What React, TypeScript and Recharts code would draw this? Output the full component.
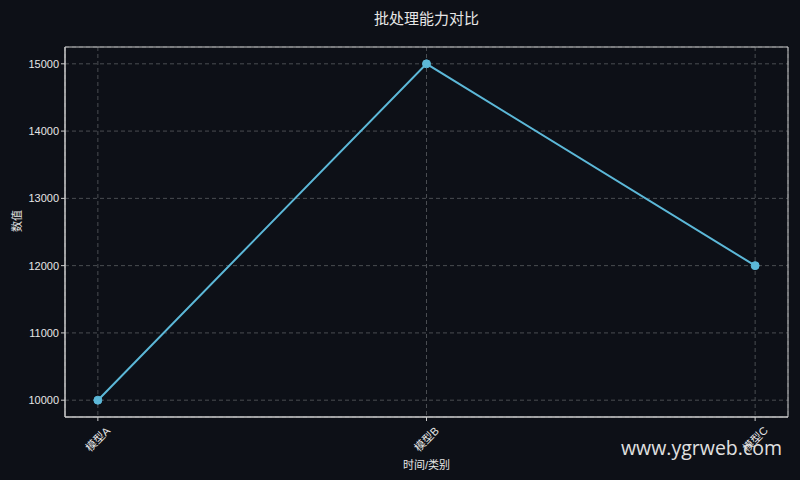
import React from "react";
import { CartesianGrid, Line, LineChart, ReferenceArea, XAxis, YAxis } from "recharts";

// 数据
const CATEGORIES = ["模型A", "模型B", "模型C"];
const VALUES = [10000, 15000, 12000];
const Y_TICKS = [10000, 11000, 12000, 13000, 14000, 15000];

const X_DOMAIN: [number, number] = [-0.1, 2.1];
const Y_DOMAIN: [number, number] = [9750, 15250];

const BG = "#0d1017";
const FG = "#e6e6e6";
const LINE = "#5cb8d8";
const FONT = "'Liberation Sans', Arial, 'Noto Sans CJK SC', sans-serif";

const rows = CATEGORIES.map((name, i) => ({ idx: i, name, value: VALUES[i] }));

// 旋转 45° 的类别标签，包围盒居中于刻度
function RotatedTick(props: any) {
  const { x, y, payload } = props;
  return (
    <g transform={`translate(${x},${y + 16})`}>
      <text
        transform="rotate(-45)"
        textAnchor="middle"
        dominantBaseline="central"
        fill={FG}
        fontSize={11}
        fontFamily={FONT}
      >
        {CATEGORIES[payload.value]}
      </text>
    </g>
  );
}

export default function App() {
  return (
    <div style={{ position: "fixed", left: 0, top: 0, width: 800, height: 480, background: BG, fontFamily: FONT }}>
      <div
        style={{
          position: "absolute", left: 65, width: 723, top: 7, textAlign: "center",
          color: FG, fontSize: 15, fontFamily: FONT,
        }}
      >
        批处理能力对比
      </div>
      <LineChart width={800} height={480} data={rows} margin={{ top: 47, right: 12, bottom: 23, left: 20 }}>
        <CartesianGrid stroke="#4a4d52" strokeDasharray="4 3" />
        <XAxis
          dataKey="idx"
          type="number"
          domain={X_DOMAIN}
          ticks={[0, 1, 2]}
          interval={0}
          height={40}
          tick={<RotatedTick />}
          tickSize={4}
          tickLine={{ stroke: "#cccccc" }}
          axisLine={{ stroke: "#cccccc" }}
          label={{ value: "时间/类别", position: "insideBottom", offset: -12, fill: FG, fontSize: 11, fontFamily: FONT }}
        />
        <YAxis
          type="number"
          domain={Y_DOMAIN}
          ticks={Y_TICKS}
          width={45}
          tickSize={4}
          tick={{ fill: FG, fontSize: 11, fontFamily: FONT }}
          tickLine={{ stroke: "#cccccc" }}
          axisLine={{ stroke: "#cccccc" }}
          label={{ value: "数值", angle: -90, position: "insideLeft", offset: -3, fill: FG, fontSize: 11, fontFamily: FONT }}
        />
        <ReferenceArea
          x1={X_DOMAIN[0]}
          x2={X_DOMAIN[1]}
          y1={Y_DOMAIN[0]}
          y2={Y_DOMAIN[1]}
          fill="none"
          stroke="#cccccc"
          strokeWidth={1}
          ifOverflow="visible"
        />
        <Line
          dataKey="value"
          stroke={LINE}
          strokeWidth={2}
          dot={{ r: 4, fill: LINE, stroke: LINE, strokeWidth: 1 }}
          activeDot={false}
          isAnimationActive={false}
        />
      </LineChart>
      <div
        style={{
          position: "absolute", left: 621, top: 434, color: "#e0e0e0",
          fontSize: 19.5, fontFamily: "'Open Sans', 'Noto Sans', sans-serif",
        }}
      >
        www.ygrweb.com
      </div>
    </div>
  );
}
